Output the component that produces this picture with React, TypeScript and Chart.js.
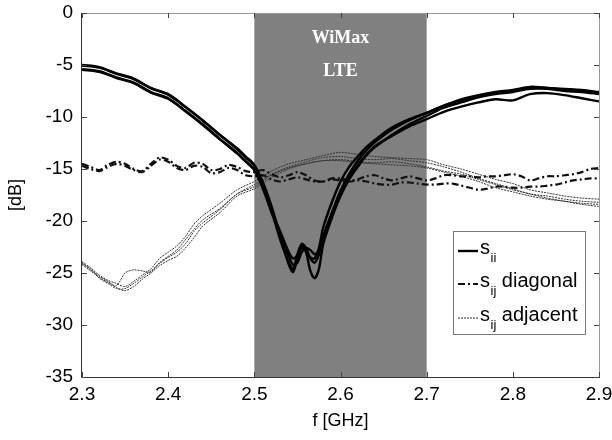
import React, { useEffect, useRef } from 'react';
import { Chart, registerables } from 'chart.js';
Chart.register(...registerables);

const FONT = '"Liberation Sans", Arial, Helvetica, sans-serif';
const SERIF = '"Liberation Serif", "Times New Roman", serif';

// Frequency grids (GHz)
const freqS = [2.30, 2.32, 2.34, 2.36, 2.38, 2.40, 2.42, 2.44, 2.46, 2.48, 2.49, 2.50, 2.51, 2.52, 2.53, 2.54, 2.545, 2.55, 2.555, 2.56, 2.565, 2.57, 2.575, 2.58, 2.59, 2.60, 2.61, 2.62, 2.63, 2.64, 2.66, 2.68, 2.70, 2.72, 2.74, 2.76, 2.78, 2.80, 2.82, 2.84, 2.86, 2.88, 2.90];
const freqD = [2.30, 2.31, 2.32, 2.33, 2.34, 2.35, 2.36, 2.37, 2.38, 2.39, 2.40, 2.41, 2.42, 2.43, 2.44, 2.45, 2.46, 2.47, 2.48, 2.49, 2.50, 2.51, 2.52, 2.53, 2.54, 2.55, 2.56, 2.57, 2.58, 2.59, 2.60, 2.61, 2.62, 2.63, 2.64, 2.65, 2.66, 2.67, 2.68, 2.69, 2.70, 2.71, 2.72, 2.73, 2.74, 2.75, 2.76, 2.77, 2.78, 2.79, 2.80, 2.81, 2.82, 2.83, 2.84, 2.85, 2.86, 2.87, 2.88, 2.89, 2.90];
const freqA = [2.30, 2.31, 2.32, 2.33, 2.34, 2.35, 2.36, 2.37, 2.38, 2.39, 2.40, 2.41, 2.42, 2.43, 2.44, 2.46, 2.48, 2.50, 2.52, 2.54, 2.56, 2.58, 2.60, 2.62, 2.64, 2.66, 2.68, 2.70, 2.72, 2.74, 2.76, 2.78, 2.80, 2.82, 2.84, 2.86, 2.88, 2.90];

// s_ii (dB)
const siiA = [-5.0, -5.2, -5.8, -6.3, -7.2, -7.8, -9.0, -10.3, -11.7, -13.0, -13.8, -14.6, -16.3, -18.6, -21.4, -24.2, -24.9, -23.6, -22.3, -23.0, -24.8, -25.5, -24.6, -22.2, -19.7, -17.6, -16.0, -14.8, -13.7, -12.9, -11.7, -10.7, -9.9, -9.1, -8.6, -8.1, -7.8, -7.6, -7.3, -7.3, -7.5, -7.6, -7.8];
const siiB = [-5.45, -5.65, -6.25, -6.75, -7.65, -8.25, -9.45, -10.75, -12.15, -13.5, -14.3, -15.1, -16.9, -19.2, -21.3, -23.4, -24.2, -24.0, -23.0, -22.6, -22.8, -23.2, -22.8, -21.4, -19.2, -17.1, -15.5, -14.2, -13.2, -12.4, -11.2, -10.3, -9.6, -8.9, -8.3, -7.9, -7.6, -7.4, -7.1, -7.2, -7.3, -7.4, -7.6];
const siiC = [-5.05, -5.25, -5.85, -6.35, -7.25, -7.85, -9.05, -10.35, -11.75, -13.1, -13.9, -14.7, -16.6, -19.0, -21.8, -24.0, -24.6, -23.2, -22.2, -22.6, -23.6, -24.0, -23.2, -21.6, -19.4, -17.4, -15.8, -14.6, -13.6, -12.8, -11.8, -10.9, -10.2, -9.5, -9.0, -8.6, -8.3, -8.4, -7.8, -7.7, -7.9, -8.2, -8.5];
const siiD = [-5.4, -5.6, -6.2, -6.7, -7.6, -8.2, -9.4, -10.7, -12.1, -13.45, -14.25, -15.05, -16.7, -19.0, -21.0, -23.0, -23.6, -23.3, -22.6, -22.9, -23.5, -23.6, -22.6, -20.6, -18.2, -16.2, -14.8, -13.8, -12.9, -12.2, -11.0, -10.2, -9.6, -8.9, -8.4, -8.0, -7.7, -7.5, -7.2, -7.2, -7.4, -7.5, -7.7];

// s_ij diagonal (dB)
const diag1 = [-14.5, -14.8, -15.1, -14.6, -14.3, -14.5, -15.0, -15.2, -14.5, -13.9, -14.1, -14.7, -14.9, -14.4, -14.5, -15.1, -15.0, -14.6, -14.8, -15.2, -15.3, -15.1, -15.5, -15.8, -15.6, -15.3, -15.6, -16.1, -16.2, -15.9, -15.9, -16.1, -16.0, -15.7, -15.6, -15.9, -16.1, -15.9, -15.7, -15.9, -16.1, -15.9, -15.6, -15.6, -15.7, -15.7, -15.8, -15.7, -15.7, -15.6, -15.5, -15.7, -16.1, -15.9, -15.7, -15.7, -15.6, -15.5, -15.3, -15.0, -14.9];
const diag2 = [-14.7, -15.0, -15.2, -14.8, -14.5, -14.7, -15.1, -15.3, -14.7, -14.1, -14.3, -14.9, -15.1, -14.7, -14.8, -15.4, -15.3, -14.9, -15.1, -15.6, -15.7, -15.6, -16.0, -16.2, -16.0, -15.8, -16.0, -16.2, -16.2, -16.0, -16.1, -16.2, -16.1, -16.2, -16.4, -16.5, -16.5, -16.3, -16.3, -16.4, -16.5, -16.5, -16.4, -16.4, -16.6, -16.8, -17.0, -16.9, -16.7, -16.7, -16.8, -16.8, -16.7, -16.7, -16.6, -16.5, -16.3, -16.1, -16.0, -15.9, -15.9];

// s_ij adjacent (dB)
const adj1 = [-23.9, -24.5, -25.2, -25.7, -26.0, -26.3, -25.8, -25.2, -24.6, -23.6, -23.0, -22.4, -21.5, -20.3, -19.5, -18.3, -17.0, -16.2, -15.2, -14.5, -14.1, -13.7, -13.4, -13.6, -13.8, -13.9, -14.0, -14.1, -14.6, -15.0, -15.5, -16.0, -16.4, -17.0, -17.3, -17.6, -17.8, -17.9];
const adj2 = [-24.2, -24.8, -25.4, -25.9, -26.2, -25.0, -24.7, -24.8, -24.9, -24.0, -23.4, -22.8, -21.8, -20.8, -19.9, -18.8, -17.4, -16.5, -15.5, -14.8, -14.3, -13.9, -13.8, -14.0, -14.1, -14.0, -14.2, -14.4, -14.8, -15.3, -15.9, -16.4, -16.9, -17.4, -17.6, -17.9, -18.1, -18.2];
const adj3 = [-24.0, -24.7, -25.3, -25.8, -26.4, -26.7, -26.3, -25.6, -25.0, -24.3, -23.8, -23.4, -22.6, -21.6, -20.5, -19.2, -17.6, -16.9, -15.8, -15.0, -14.5, -14.2, -14.1, -14.3, -14.4, -14.3, -14.5, -14.8, -15.2, -15.5, -16.0, -16.5, -17.0, -17.4, -17.8, -18.1, -18.4, -18.6];
const adj4 = [-24.1, -24.6, -25.5, -26.0, -26.5, -26.5, -26.0, -25.4, -24.8, -24.1, -23.5, -23.0, -22.2, -21.0, -20.2, -18.9, -17.4, -16.7, -15.6, -14.9, -14.5, -14.2, -14.2, -14.4, -14.5, -14.6, -14.7, -14.9, -15.3, -15.7, -16.2, -16.8, -17.2, -17.6, -17.9, -18.1, -18.3, -18.4];

// Axis ticks & band
const xTicks = [2.3, 2.4, 2.5, 2.6, 2.7, 2.8, 2.9];
const yTicks = [0, -5, -10, -15, -20, -25, -30, -35];
const band = [2.5, 2.7];
const bandLabels = ['WiMax', 'LTE'];
const legendItems = [
  { main: 's', sub: 'ii', rest: '' },
  { main: 's', sub: 'ij', rest: ' diagonal' },
  { main: 's', sub: 'ij', rest: ' adjacent' },
];

const SII_STYLE = { color: '#000', width: 2.4, dash: [] as number[] };
const DIAG_STYLE = { color: '#111', width: 2.2, dash: [7, 3, 2, 3] };
const ADJ_STYLE = { color: '#333', width: 1, dash: [2, 1] };

export default function App() {
  const ref = useRef<HTMLCanvasElement>(null);
  useEffect(() => {
    if (!ref.current) return;
    const mk = (xs: number[], ys: number[]) => xs.map((x, i) => ({ x, y: ys[i] }));
    const line = (data: any, st: any) => ({
      data,
      borderColor: st.color,
      borderWidth: st.width,
      borderDash: st.dash,
      pointRadius: 0,
      tension: 0.3,
      fill: false,
    });

    const bandPlugin = {
      id: 'band',
      beforeDatasetsDraw(chart: any) {
        const { ctx, chartArea: a, scales } = chart;
        const x0 = scales.x.getPixelForValue(band[0]);
        const x1 = scales.x.getPixelForValue(band[1]);
        ctx.save();
        ctx.fillStyle = '#808080';
        ctx.fillRect(x0, a.top, x1 - x0, a.bottom - a.top);
        ctx.restore();
      },
    };

    const decor = {
      id: 'decor',
      afterDraw(chart: any) {
        const { ctx, chartArea: a, scales } = chart;
        const xs = scales.x, ys = scales.y;
        ctx.save();
        // band text
        const cx = xs.getPixelForValue((band[0] + band[1]) / 2);
        ctx.fillStyle = '#fff';
        ctx.font = 'bold 18px ' + SERIF;
        ctx.textAlign = 'center';
        ctx.textBaseline = 'middle';
        ctx.fillText(bandLabels[0], cx, a.top + 25);
        ctx.fillText(bandLabels[1], cx, a.top + 58);

        // frame
        ctx.lineWidth = 1;
        ctx.strokeStyle = '#999';
        ctx.beginPath();
        ctx.moveTo(a.left, a.top + 0.5);
        ctx.lineTo(a.right + 0.5, a.top + 0.5);
        ctx.lineTo(a.right + 0.5, a.bottom);
        ctx.stroke();
        ctx.strokeStyle = '#333';
        ctx.beginPath();
        ctx.moveTo(a.left - 0.5, a.top);
        ctx.lineTo(a.left - 0.5, a.bottom + 0.5);
        ctx.lineTo(a.right + 1, a.bottom + 0.5);
        ctx.stroke();
        // inner ticks
        const TL = 5;
        ctx.strokeStyle = '#444';
        ctx.beginPath();
        xTicks.forEach((v) => {
          const px = Math.round(xs.getPixelForValue(v)) + 0.5;
          ctx.moveTo(px, a.bottom); ctx.lineTo(px, a.bottom - TL);
          ctx.moveTo(px, a.top); ctx.lineTo(px, a.top + TL);
        });
        yTicks.forEach((v) => {
          const py = Math.round(ys.getPixelForValue(v)) + 0.5;
          ctx.moveTo(a.left, py); ctx.lineTo(a.left + TL, py);
          ctx.moveTo(a.right, py); ctx.lineTo(a.right - TL, py);
        });
        ctx.stroke();

        // legend
        const lx = a.right - 146, ly = a.top + 218, lw = 132, lh = 103;
        ctx.fillStyle = '#fff';
        ctx.fillRect(lx, ly, lw, lh);
        ctx.strokeStyle = '#777';
        ctx.lineWidth = 1;
        ctx.strokeRect(lx + 0.5, ly + 0.5, lw, lh);
        const styles = [SII_STYLE, DIAG_STYLE, ADJ_STYLE];
        const rowY = [ly + 17, ly + 50, ly + 84];
        legendItems.forEach((it, i) => {
          const st = styles[i];
          const y = rowY[i];
          ctx.strokeStyle = st.color;
          ctx.lineWidth = st.width;
          ctx.setLineDash(st.dash);
          ctx.beginPath();
          ctx.moveTo(lx + 5, y + 3);
          ctx.lineTo(lx + 25, y + 3);
          ctx.stroke();
          ctx.setLineDash([]);
          ctx.fillStyle = '#000';
          ctx.textAlign = 'left';
          ctx.textBaseline = 'middle';
          ctx.font = '20px ' + FONT;
          let tx = lx + 27;
          ctx.fillText(it.main, tx, y);
          tx += ctx.measureText(it.main).width + 0.5;
          ctx.font = '13px ' + FONT;
          ctx.fillText(it.sub, tx, y + 10);
          tx += ctx.measureText(it.sub).width;
          ctx.font = '20px ' + FONT;
          if (it.rest) ctx.fillText(it.rest, tx, y);
        });
        ctx.restore();
      },
    };

    const chart = new Chart(ref.current, {
      type: 'line',
      data: {
        datasets: [
          line(mk(freqS, siiA), SII_STYLE),
          line(mk(freqS, siiB), SII_STYLE),
          line(mk(freqS, siiC), SII_STYLE),
          line(mk(freqS, siiD), SII_STYLE),
          line(mk(freqD, diag1), DIAG_STYLE),
          line(mk(freqD, diag2), DIAG_STYLE),
          line(mk(freqA, adj1), ADJ_STYLE),
          line(mk(freqA, adj2), ADJ_STYLE),
          line(mk(freqA, adj3), ADJ_STYLE),
          line(mk(freqA, adj4), ADJ_STYLE),
        ],
      },
      options: {
        animation: false,
        responsive: false,
        layout: { padding: { top: 13, right: 13, left: 0, bottom: 0 } },
        plugins: { legend: { display: false }, tooltip: { enabled: false } },
        scales: {
          x: {
            type: 'linear',
            min: 2.3,
            max: 2.9,
            afterFit: (s: any) => { s.height = 63; s.paddingLeft = 0; s.paddingRight = 0; },
            afterBuildTicks: (s: any) => { s.ticks = xTicks.map((v) => ({ value: v })); },
            grid: { display: false, drawTicks: false },
            border: { display: false },
            ticks: {
              padding: 6,
              color: '#000',
              font: { family: FONT, size: 19 },
              maxRotation: 0,
              callback: (v: any) => Number(v).toFixed(1),
            },
            title: { display: true, text: 'f [GHz]', color: '#000', font: { family: FONT, size: 18 }, padding: { bottom: 8, top: 0 } },
          },
          y: {
            type: 'linear',
            min: -35,
            max: 0,
            afterFit: (s: any) => { s.width = 82; s.paddingTop = 0; s.paddingBottom = 0; },
            afterBuildTicks: (s: any) => { s.ticks = yTicks.map((v) => ({ value: v })); },
            grid: { display: false, drawTicks: false },
            border: { display: false },
            ticks: { padding: 9, color: '#000', font: { family: FONT, size: 19 }, callback: (v: any) => String(v) },
            title: { display: true, text: '[dB]', color: '#000', font: { family: FONT, size: 18 }, padding: { top: 5, bottom: 0 } },
          },
        },
      },
      plugins: [bandPlugin, decor],
    });
    return () => chart.destroy();
  }, []);
  return (
    <div style={{ position: 'fixed', left: 0, top: 0, width: 612, height: 440, background: '#fff' }}>
      <canvas ref={ref} width={612} height={440} style={{ display: 'block' }} />
    </div>
  );
}
